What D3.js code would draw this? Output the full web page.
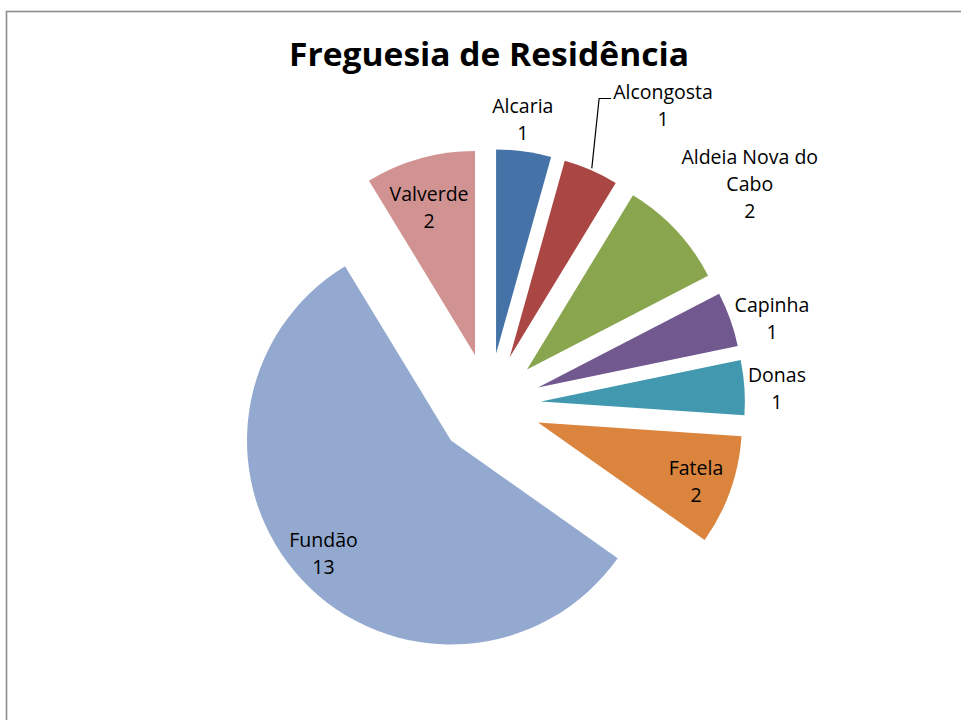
<!DOCTYPE html>
<html>
<head>
<meta charset="utf-8">
<script src="https://cdn.jsdelivr.net/npm/d3@7"></script>
<style>
  html, body { margin: 0; padding: 0; background: #fff; }
  svg { display: block; }
</style>
</head>
<body>
<svg id="chart" width="961" height="720"></svg>
<script>
// ---- data ----
const title = "Freguesia de Residência";
const categories = ["Alcaria", "Alcongosta", "Aldeia Nova do Cabo", "Capinha", "Donas", "Fatela", "Fundão", "Valverde"];
const values = [1, 1, 2, 1, 1, 2, 13, 2];
const colors = ["#4572A7", "#AA4643", "#89A54E", "#71588F", "#4198AF", "#DB843D", "#93A9CF", "#D19392"];

// ---- layout (label placement relative to each slice: angle shift in degrees, radius factor) ----
const labelAngleShift = [-1.3, 7.8, 3.3, 3.1, 0.7, 0.8, 1.5, -1.6];
const labelRadiusFactor = [1.154, 1.447, 1.42, 1.196, 1.159, 0.826, 0.835, 0.759];
const leaderLine = [false, true, false, false, false, false, false, false];

const W = 961, H = 720;
const cx = 489, cy = 405, R = 204, explode = 52;
const lineH = 27, capH = 14, wrapWidth = 145;

const svg = d3.select("#chart");

// frame
svg.append("rect")
  .attr("x", 6.5).attr("y", 11.5)
  .attr("width", W + 20).attr("height", H + 20)
  .attr("fill", "#fff")
  .attr("stroke", "#8c8c8c")
  .attr("stroke-width", 1.6);

// title
svg.append("text")
  .attr("x", cx).attr("y", 66)
  .attr("text-anchor", "middle")
  .attr("font-family", "'Open Sans', sans-serif")
  .attr("font-weight", "bold")
  .attr("font-size", 31.5)
  .attr("textLength", 400)
  .attr("lengthAdjust", "spacingAndGlyphs")
  .attr("fill", "#000")
  .text(title);

const data = categories.map((c, i) => ({ name: c, value: values[i], color: colors[i], i }));

const pie = d3.pie().value(d => d.value).sort(null).startAngle(0).endAngle(2 * Math.PI);
const arcs = pie(data);
const arc = d3.arc().innerRadius(0).outerRadius(R);

const g = svg.append("g").attr("transform", `translate(${cx},${cy})`);

function polar(angle, r) { return [Math.sin(angle) * r, -Math.cos(angle) * r]; }

arcs.forEach(a => {
  a.mid = (a.startAngle + a.endAngle) / 2;
  a.off = polar(a.mid, explode);
});

g.selectAll("path.slice")
  .data(arcs)
  .join("path")
  .attr("class", "slice")
  .attr("transform", d => `translate(${d.off[0]},${d.off[1]})`)
  .attr("d", arc)
  .attr("fill", d => d.data.color);

// labels
const labelG = g.append("g");
arcs.forEach((a, idx) => {
  const ang = a.mid + labelAngleShift[idx] * Math.PI / 180;
  const p = polar(ang, R * labelRadiusFactor[idx]);
  const lx = a.off[0] + p[0], ly = a.off[1] + p[1];

  const t = labelG.append("text")
    .attr("text-anchor", "middle")
    .attr("font-family", "'Open Sans', sans-serif")
    .attr("font-size", 19.5)
    .attr("fill", "#000");

  // word wrap the category name
  const words = a.data.name.split(" ");
  const lines = [];
  let cur = "";
  const probe = t.append("tspan");
  words.forEach(w => {
    const test = cur ? cur + " " + w : w;
    probe.text(test);
    if (probe.node().getComputedTextLength() > wrapWidth && cur) {
      lines.push(cur); cur = w;
    } else cur = test;
  });
  if (cur) lines.push(cur);
  probe.remove();
  lines.push(String(a.data.value));

  const b1 = ly - ((lines.length - 1) * lineH) / 2 + capH / 2;
  lines.forEach((ln, k) => {
    t.append("tspan").attr("x", lx).attr("y", b1 + k * lineH).text(ln);
  });

  if (leaderLine[idx]) {
    const bb = t.node().getBBox();
    const first = t.select("tspan").node().getComputedTextLength();
    const leftX = lx - first / 2 - 2;
    const start = polar(a.mid, R + 2);
    const pts = [
      [a.off[0] + start[0], a.off[1] + start[1]],
      [leftX - 12, b1],
      [leftX, b1]
    ];
    labelG.append("path")
      .attr("d", d3.line()(pts))
      .attr("fill", "none")
      .attr("stroke", "#000")
      .attr("stroke-width", 1.2);
  }
});
</script>
</body>
</html>
